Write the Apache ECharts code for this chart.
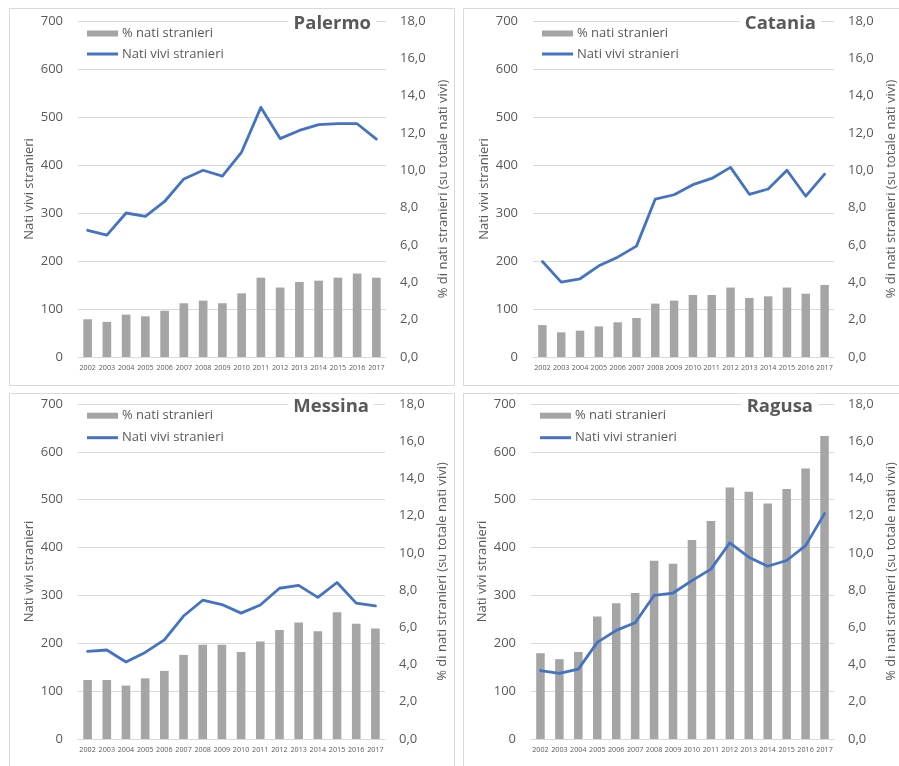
<!DOCTYPE html>
<html>
<head>
<meta charset="utf-8">
<script src="https://cdn.jsdelivr.net/npm/echarts@6/dist/echarts.min.js"></script>
<style>
html,body{margin:0;padding:0;background:#fff;}
#c{width:899px;height:766px;}
</style>
</head>
<body>
<div id="c"></div>
<script>
const years = ['2002','2003','2004','2005','2006','2007','2008','2009','2010','2011','2012','2013','2014','2015','2016','2017'];
const leftTicks = [0,100,200,300,400,500,600,700];
const rightTicks = ['0,0','2,0','4,0','6,0','8,0','10,0','12,0','14,0','16,0','18,0'];

const cityNames = ['Palermo','Catania','Messina','Ragusa'];

// % nati stranieri (right axis)
const palermoPct = [2.02,1.88,2.27,2.18,2.48,2.88,3.02,2.88,3.41,4.25,3.72,4.02,4.09,4.25,4.47,4.25];
const cataniaPct = [1.71,1.32,1.41,1.64,1.86,2.09,2.86,3.02,3.32,3.32,3.72,3.16,3.25,3.72,3.39,3.86];
const messinaPct = [3.17,3.17,2.87,3.26,3.66,4.52,5.07,5.07,4.68,5.24,5.86,6.26,5.79,6.81,6.19,5.94];
const ragusaPct  = [4.61,4.29,4.68,6.58,7.30,7.84,9.58,9.41,10.69,11.71,13.52,13.29,12.66,13.43,14.54,16.28];

// Nati vivi stranieri (left axis)
const palermoNati = [264,254,300,293,324,371,389,377,427,520,455,472,484,486,486,454];
const cataniaNati = [199,156,163,190,208,231,329,338,359,372,395,339,350,389,335,381];
const messinaNati = [183,186,161,181,207,257,290,281,263,280,315,321,296,327,284,278];
const ragusaNati  = [143,137,146,202,227,243,300,305,331,355,410,380,361,373,404,471];

const pctSeries = [palermoPct, cataniaPct, messinaPct, ragusaPct];
const natiSeries = [palermoNati, cataniaNati, messinaNati, ragusaNati];

const W = 899;
const layout = [
  {grid:{left:78, top:21, width:308, height:336}, titleRight:W-376, titleMid:23.3, legX:87, leg1:33.5, leg2:54, border:[9,8,445,377]},
  {grid:{left:533, top:21, width:306, height:336}, titleRight:W-821, titleMid:23.3, legX:542, leg1:33.5, leg2:54, border:[463,8,460,377]},
  {grid:{left:78, top:404, width:307, height:335}, titleRight:W-374, titleMid:406.7, legX:87, leg1:415.7, leg2:437.7, border:[9,393,445,400]},
  {grid:{left:531, top:404, width:310, height:335}, titleRight:W-818, titleMid:406.7, legX:540, leg1:415.7, leg2:437.7, border:[463,393,460,400]}
];

const FONT = '"Open Sans", "Noto Sans", sans-serif';
const GREY_TXT = '#595959';
const GRID_C = '#d9d9d9';
const BAR_C = '#a5a5a5';
const LINE_C = '#4472c4';

const option = {
  animation:false,
  backgroundColor:'#fff',
  textStyle:{fontFamily:FONT},
  title:[], legend:[], grid:[], xAxis:[], yAxis:[], series:[], graphic:[]
};

layout.forEach((L,i)=>{
  const barName = '% nati stranieri' + '\u200b'.repeat(i);
  const lineName = 'Nati vivi stranieri' + '\u200b'.repeat(i);
  option.graphic.push({type:'rect', z:-10, shape:{x:L.border[0]+0.5,y:L.border[1]+0.5,width:L.border[2],height:L.border[3]}, style:{fill:'#fff',stroke:GRID_C,lineWidth:1}});
  option.title.push({text:cityNames[i], right:L.titleRight, top:L.titleMid-13, padding:[2,5,2,5], backgroundColor:'#fff',
    textStyle:{fontFamily:FONT, fontSize:18.5, fontWeight:'bold', color:GREY_TXT, lineHeight:22}});
  option.legend.push({data:[{name:barName, icon:'rect'}], left:L.legX, top:L.leg1-8, padding:0, itemWidth:31, itemHeight:6, itemGap:0,
    textStyle:{fontFamily:FONT, fontSize:13, color:GREY_TXT, lineHeight:16, padding:[0,0,0,-1]},
    formatter:(n)=>n.replace(/\u200b/g,'')});
  option.legend.push({data:[{name:lineName, icon:'rect', itemStyle:{color:LINE_C}}], left:L.legX, top:L.leg2-8, padding:0, itemWidth:31, itemHeight:3, itemGap:0,
    textStyle:{fontFamily:FONT, fontSize:13, color:GREY_TXT, lineHeight:16, padding:[0,0,0,-1]},
    formatter:(n)=>n.replace(/\u200b/g,'')});
  option.grid.push(Object.assign({containLabel:false}, L.grid));
  option.xAxis.push({type:'category', gridIndex:i, data:years,
    axisLine:{show:true, lineStyle:{color:GRID_C, width:1}}, axisTick:{show:false},
    axisLabel:{interval:0, fontSize:7.2, color:GREY_TXT, margin:7, fontFamily:FONT}});
  option.yAxis.push({type:'value', gridIndex:i, min:0, max:700, interval:100, position:'left',
    name:'Nati vivi stranieri', nameLocation:'middle', nameGap:42,
    nameTextStyle:{fontSize:13, color:GREY_TXT, fontFamily:FONT},
    axisLine:{show:false}, axisTick:{show:false},
    axisLabel:{fontSize:13, color:GREY_TXT, margin:15, fontFamily:FONT},
    splitLine:{show:true, lineStyle:{color:GRID_C, width:1}}});
  option.yAxis.push({type:'value', gridIndex:i, min:0, max:18, interval:2, position:'right',
    name:'% di nati stranieri (su totale nati vivi)', nameLocation:'middle', nameGap:51,
    nameTextStyle:{fontSize:13, color:GREY_TXT, fontFamily:FONT},
    axisLine:{show:false}, axisTick:{show:false},
    axisLabel:{fontSize:13, color:GREY_TXT, margin:14, fontFamily:FONT,
      formatter:(v)=>rightTicks[Math.round(v/2)]},
    splitLine:{show:false}});
  option.series.push({type:'bar', name:barName, xAxisIndex:i, yAxisIndex:2*i+1, data:pctSeries[i],
    barWidth:'45%', itemStyle:{color:BAR_C}, z:2});
  option.series.push({type:'line', name:lineName, xAxisIndex:i, yAxisIndex:2*i, data:natiSeries[i],
    symbol:'none', lineStyle:{color:LINE_C, width:2.8, join:'round', cap:'round'}, itemStyle:{color:LINE_C}, z:3});
});

const chart = echarts.init(document.getElementById('c'), null, {renderer:'canvas'});
chart.setOption(option);
</script>
</body>
</html>
